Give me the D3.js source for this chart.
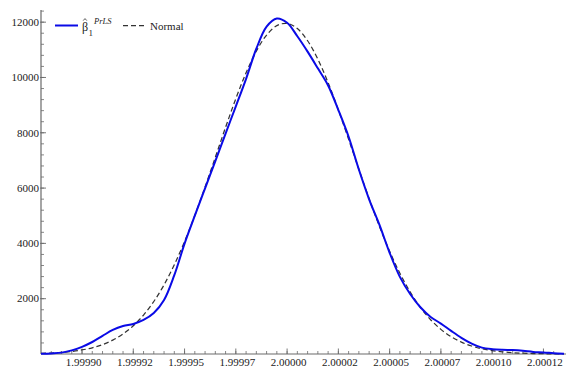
<!DOCTYPE html>
<html>
<head>
<meta charset="utf-8">
<script src="https://cdn.jsdelivr.net/npm/d3@7"></script>
<style>
    body { margin: 0; background: #fff; }
    svg { display: block; }
    .tick-label { font-family: "Liberation Serif", "Times New Roman", serif; font-size: 11px; fill: #222; }
</style>
</head>
<body>
<div id="chart"></div>
<script>
// sample grid (step 5e-6) and the two densities
const xs = [
    1.999880, 1.999885, 1.999890, 1.999895, 1.999900, 1.999905, 1.999910, 1.999915, 1.999920, 1.999925,
    1.999930, 1.999935, 1.999940, 1.999945, 1.999950, 1.999955, 1.999960, 1.999965, 1.999970, 1.999975,
    1.999980, 1.999985, 1.999990, 1.999995, 2.000000, 2.000005, 2.000010, 2.000015, 2.000020, 2.000025,
    2.000030, 2.000035, 2.000040, 2.000045, 2.000050, 2.000055, 2.000060, 2.000065, 2.000070, 2.000075,
    2.000080, 2.000085, 2.000090, 2.000095, 2.000100, 2.000105, 2.000110, 2.000115, 2.000120, 2.000125,
    2.000130, 2.000135
];
const kernelDensity = [
    5, 22, 50, 130, 260, 434, 655, 870, 1010, 1085,
    1230, 1480, 1950, 2850, 3990, 5002, 5993, 6977, 7972, 8956,
    9950, 11039, 11840, 12135, 11980, 11490, 10934, 10330, 9712, 8822,
    7856, 6670, 5595, 4677, 3660, 2790, 2170, 1690, 1340, 1100,
    835, 585, 376, 231, 174, 150, 141, 116, 76, 58,
    29, 7
];
const normalDensity = [
    21, 35, 57, 93, 146, 225, 340, 501, 723, 1020,
    1408, 1898, 2501, 3225, 4066, 5012, 6039, 7113, 8196, 9233,
    10169, 10953, 11533, 11875, 11956, 11769, 11328, 10661, 9810, 8827,
    7765, 6679, 5618, 4621, 3715, 2921, 2245, 1688, 1240, 891,
    626, 430, 289, 190, 122, 77, 47, 28, 17, 10,
    5, 3
];

const xMajorTicks = [1.9999, 1.999925, 1.99995, 1.999975, 2.0, 2.000025, 2.00005, 2.000075, 2.0001, 2.000125];
const xTickLabels = ["1.99990", "1.99992", "1.99995", "1.99997", "2.00000", "2.00002", "2.00005", "2.00007", "2.00010", "2.00012"];
const yMajorTicks = [2000, 4000, 6000, 8000, 10000, 12000];

const width = 572;
const height = 367;

const svg = d3.select("#chart").append("svg")
    .attr("width", width)
    .attr("height", height);

const x = d3.scaleLinear().domain([1.99988, 2.000136]).range([41, 566]);
const y = d3.scaleLinear().domain([0, 12440]).range([354, 10]);

const axisColor = "#6a6a6a";
const blue = "#0a0ae6";
const dashGray = "#333";

// x axis
const xAxis = svg.append("g");
xAxis.append("line")
    .attr("x1", x.range()[0]).attr("x2", x.range()[1])
    .attr("y1", y(0)).attr("y2", y(0))
    .attr("stroke", axisColor).attr("stroke-width", 1.2);

const xMinor = d3.range(1, 51).map(i => 1.99988 + i * 5e-6);
xAxis.selectAll(".xminor")
    .data(xMinor)
    .enter().append("line")
    .attr("x1", d => x(d)).attr("x2", d => x(d))
    .attr("y1", y(0)).attr("y2", y(0) - 3)
    .attr("stroke", axisColor).attr("stroke-width", 0.8);

xAxis.selectAll(".xmajor")
    .data(xMajorTicks)
    .enter().append("line")
    .attr("x1", d => x(d)).attr("x2", d => x(d))
    .attr("y1", y(0)).attr("y2", y(0) - 5.5)
    .attr("stroke", axisColor).attr("stroke-width", 0.9);

xAxis.selectAll(".xlabel")
    .data(xMajorTicks)
    .enter().append("text")
    .attr("class", "tick-label")
    .attr("x", d => x(d) + 1.5)
    .attr("y", 366)
    .attr("text-anchor", "middle")
    .text((d, i) => xTickLabels[i]);

// y axis
const yAxis = svg.append("g");
yAxis.append("line")
    .attr("x1", x.range()[0]).attr("x2", x.range()[0])
    .attr("y1", y(0)).attr("y2", y.range()[1])
    .attr("stroke", axisColor).attr("stroke-width", 1.2);

const yMinor = d3.range(400, 12440, 400);
yAxis.selectAll(".yminor")
    .data(yMinor)
    .enter().append("line")
    .attr("x1", x.range()[0]).attr("x2", x.range()[0] + 3)
    .attr("y1", d => y(d)).attr("y2", d => y(d))
    .attr("stroke", axisColor).attr("stroke-width", 0.8);

yAxis.selectAll(".ymajor")
    .data(yMajorTicks)
    .enter().append("line")
    .attr("x1", x.range()[0] - 1).attr("x2", x.range()[0] + 5)
    .attr("y1", d => y(d)).attr("y2", d => y(d))
    .attr("stroke", axisColor).attr("stroke-width", 0.9);

yAxis.selectAll(".ylabel")
    .data(yMajorTicks)
    .enter().append("text")
    .attr("class", "tick-label")
    .attr("x", 39)
    .attr("y", d => y(d) + 3.8)
    .attr("text-anchor", "end")
    .text(d => d);

// curves
const line = d3.line()
    .x((d, i) => x(xs[i]))
    .y(d => y(d))
    .curve(d3.curveCatmullRom.alpha(0.5));

svg.append("path")
    .datum(normalDensity)
    .attr("d", line)
    .attr("fill", "none")
    .attr("stroke", dashGray)
    .attr("stroke-width", 1.25)
    .attr("stroke-dasharray", "5,3");

svg.append("path")
    .datum(kernelDensity)
    .attr("d", line)
    .attr("fill", "none")
    .attr("stroke", blue)
    .attr("stroke-width", 2);

// legend
const legend = svg.append("g")
    .style("font-family", "'Liberation Serif', 'Times New Roman', serif")
    .style("fill", "#222");

legend.append("line")
    .attr("x1", 55).attr("x2", 78).attr("y1", 25.5).attr("y2", 25.5)
    .attr("stroke", blue).attr("stroke-width", 2);

legend.append("text").attr("x", 82).attr("y", 31).style("font-size", "12px").text("β");
// hat over beta
legend.append("path")
    .attr("d", "M83.2,20.6 L85,18.6 L86.8,20.6")
    .attr("fill", "none").attr("stroke", "#333").attr("stroke-width", 0.8);
legend.append("text").attr("x", 88.5).attr("y", 36).style("font-size", "9px").text("1");
legend.append("text").attr("x", 94).attr("y", 24).style("font-size", "8.5px")
    .style("font-style", "italic").text("PrLS");

legend.append("line")
    .attr("x1", 123).attr("x2", 147).attr("y1", 25.5).attr("y2", 25.5)
    .attr("stroke", dashGray).attr("stroke-width", 1.25)
    .attr("stroke-dasharray", "5,3");

legend.append("text").attr("x", 150).attr("y", 29.5).style("font-size", "11px").text("Normal");
</script>
</body>
</html>
